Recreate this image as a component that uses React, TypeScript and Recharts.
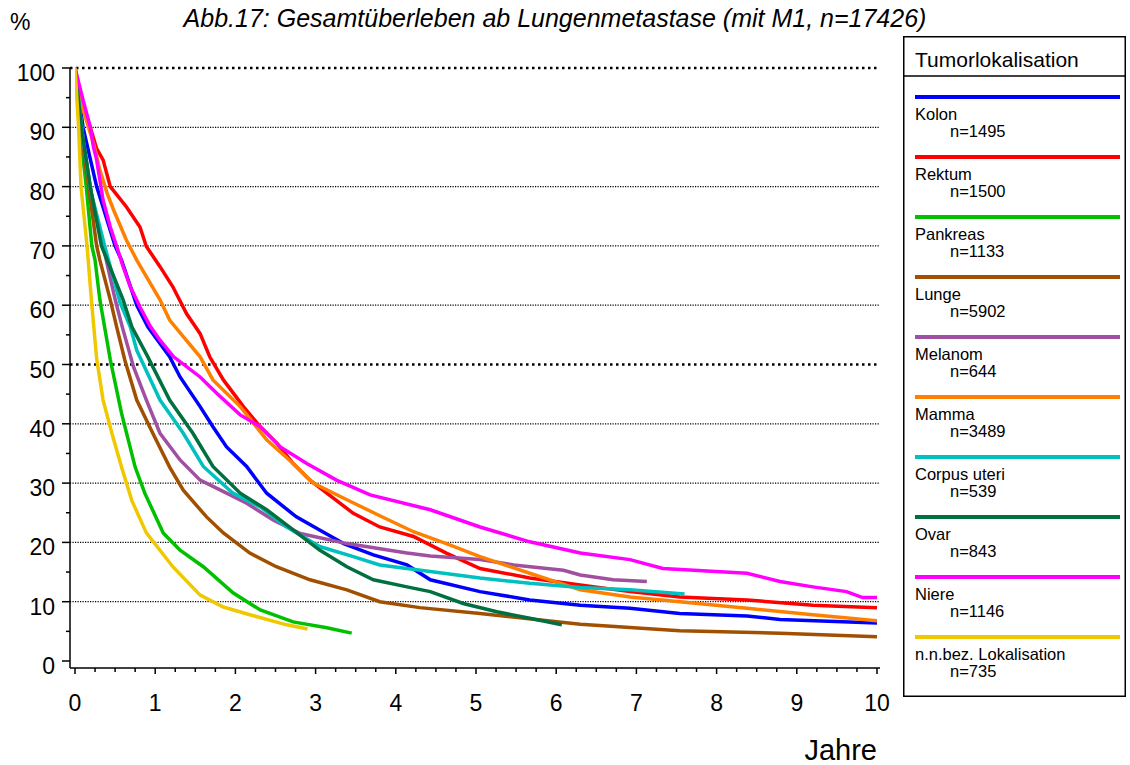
import React from 'react';
import { LineChart, Line, XAxis, YAxis, ReferenceLine, Legend } from 'recharts';

// survival curves, [years, percent]
const kolon = [[0, 100], [0.1, 90], [0.27, 80], [0.5, 70], [0.58, 67.6], [0.77, 60], [0.91, 56.3], [1.18, 51.3], [1.31, 47.9], [1.56, 42.9], [1.72, 39.5], [1.89, 36.1], [2.14, 32.8], [2.39, 28.3], [2.76, 24.3], [3.05, 22.1], [3.35, 19.8], [3.72, 17.9], [4.14, 16.2], [4.43, 13.7], [5.05, 11.7], [5.67, 10.3], [6.3, 9.4], [6.92, 8.9], [7.54, 8.0], [8.38, 7.6], [8.79, 7.0], [10, 6.4]];
const rektum = [[0, 100], [0.08, 94], [0.19, 90], [0.27, 86.4], [0.35, 84.5], [0.44, 80], [0.64, 76.6], [0.81, 73.2], [0.89, 69.9], [1.06, 66.5], [1.22, 63.1], [1.39, 58.6], [1.56, 55.2], [1.68, 51.3], [1.85, 47.4], [2.1, 42.9], [2.31, 39.5], [2.52, 36.7], [2.72, 33.3], [2.93, 30.5], [3.14, 28.3], [3.47, 24.9], [3.8, 22.6], [4.22, 21.0], [4.63, 18.2], [5.05, 15.6], [5.67, 14.0], [6.3, 12.8], [6.92, 11.7], [7.54, 10.8], [8.38, 10.3], [9.2, 9.4], [10, 9.0]];
const pankreas = [[0, 100], [0.06, 90], [0.1, 85], [0.14, 80], [0.21, 70], [0.25, 67.6], [0.31, 60.9], [0.44, 50.8], [0.58, 41.8], [0.75, 32.7], [0.87, 28.3], [1.1, 21.6], [1.31, 18.7], [1.6, 15.9], [1.97, 11.5], [2.31, 8.6], [2.72, 6.6], [3.14, 5.6], [3.45, 4.7]];
const lunge = [[0, 100], [0.08, 90], [0.12, 84.5], [0.17, 80], [0.27, 70], [0.31, 67.6], [0.44, 60.9], [0.52, 56.3], [0.62, 50.8], [0.77, 44], [0.97, 38.4], [1.18, 32.7], [1.35, 28.8], [1.64, 24.3], [1.85, 21.6], [2.18, 18.2], [2.51, 15.9], [2.93, 13.7], [3.39, 12], [3.8, 10], [4.3, 9], [5.05, 8.0], [6.3, 6.2], [7.54, 5.1], [8.79, 4.7], [10, 4.1]];
const melanom = [[0, 100], [0.1, 88], [0.2, 79], [0.35, 70], [0.5, 61], [0.59, 56.3], [0.73, 49.6], [0.89, 44], [1.06, 38.4], [1.31, 33.9], [1.56, 30.5], [1.89, 28.3], [2.14, 26.6], [2.47, 23.8], [2.81, 21.5], [3.39, 19.8], [4.14, 18.2], [4.43, 17.7], [5.05, 17.1], [5.47, 16.2], [6.09, 15.3], [6.3, 14.5], [6.71, 13.7], [7.13, 13.4]];
const mamma = [[0, 100], [0.1, 93], [0.23, 87.3], [0.31, 82.8], [0.4, 78.9], [0.48, 76.1], [0.64, 71.0], [0.77, 67.6], [0.89, 64.8], [1.06, 60.9], [1.18, 57.5], [1.35, 54.7], [1.56, 51.3], [1.72, 47.4], [2.06, 42.9], [2.39, 37.3], [2.72, 33.3], [2.97, 30.0], [3.39, 27.2], [3.8, 24.5], [4.22, 21.8], [4.63, 19.8], [5.05, 17.6], [5.67, 14.8], [6.3, 12.0], [6.92, 10.8], [7.54, 10.0], [8.38, 8.9], [9.2, 7.8], [10, 6.8]];
const corpusUteri = [[0, 100], [0.1, 88], [0.2, 79], [0.37, 70], [0.56, 60.5], [0.69, 56.3], [0.77, 52.4], [1.06, 44], [1.35, 38.4], [1.6, 32.8], [1.97, 28.3], [2.31, 26.0], [2.64, 22.6], [3.05, 19.3], [3.47, 17.6], [3.8, 16.2], [4.43, 15.1], [5.05, 14.0], [5.67, 13.1], [6.3, 12.4], [6.92, 12.0], [7.6, 11.3]];
const ovar = [[0, 100], [0.08, 90], [0.19, 80], [0.33, 70], [0.6, 60.9], [0.71, 56.3], [0.9, 51.5], [1.18, 44], [1.47, 38.4], [1.72, 32.8], [2.06, 28.3], [2.39, 25.5], [2.72, 22.1], [3.05, 18.7], [3.39, 15.9], [3.72, 13.7], [4.14, 12.5], [4.43, 11.7], [4.84, 9.7], [5.26, 8.3], [5.67, 7.2], [6.07, 6.1]];
const niere = [[0, 100], [0.1, 94.6], [0.19, 90.1], [0.23, 86.7], [0.27, 84.5], [0.31, 81.1], [0.35, 77.7], [0.44, 73.2], [0.52, 69.9], [0.6, 66.5], [0.69, 63.1], [0.81, 59.7], [0.94, 56.4], [1.06, 54.1], [1.23, 51.3], [1.56, 47.9], [1.77, 45.1], [2.06, 41.5], [2.31, 39.5], [2.56, 36.1], [2.89, 33.3], [3.26, 30.5], [3.68, 28.0], [4.43, 25.5], [5.05, 22.6], [5.67, 20.1], [6.3, 18.2], [6.92, 17.1], [7.33, 15.6], [8.38, 14.8], [8.79, 13.4], [9.2, 12.5], [9.62, 11.7], [9.82, 10.7], [10, 10.7]];
const nnbez = [[0, 100], [0.045, 90], [0.075, 80], [0.15, 70], [0.21, 60], [0.27, 51], [0.35, 44], [0.46, 38.4], [0.58, 32.7], [0.71, 27], [0.89, 21.6], [1.22, 15.9], [1.56, 11.1], [1.85, 9.1], [2.18, 7.8], [2.64, 6.1], [2.9, 5.4]];

const names = ['Kolon', 'Rektum', 'Pankreas', 'Lunge', 'Melanom', 'Mamma', 'Corpus uteri', 'Ovar', 'Niere', 'n.n.bez. Lokalisation'];
const counts = [1495, 1500, 1133, 5902, 644, 3489, 539, 843, 1146, 735];
const curves = [kolon, rektum, pankreas, lunge, melanom, mamma, corpusUteri, ovar, niere, nnbez];
const colors = ['#0000ff', '#ff0000', '#00c000', '#a05000', '#a050a0', '#ff8000', '#00c0c0', '#007040', '#ff00ff', '#f0c800'];

const yMajor = [0, 10, 20, 30, 40, 50, 60, 70, 80, 90, 100];
const yTicks = Array.from({ length: 21 }, (_, i) => i * 5);
const xMajor = [0, 1, 2, 3, 4, 5, 6, 7, 8, 9, 10];
const xTicks = Array.from({ length: 41 }, (_, i) => i / 4);
const gridValues = [10, 20, 30, 40, 50, 60, 70, 80, 90, 100];

const FONT = '"Liberation Sans", Arial, sans-serif';

const series = names.map((name, i) => ({
  name,
  n: counts[i],
  color: colors[i],
  data: curves[i].map(([t, v]) => ({ t, v })),
}));

// y ticks: tickSize 8 + tickMargin 7 -> axis is 15px right of props.x
const YTick = (props: any) => {
  const { x, y, payload } = props;
  const major = yMajor.includes(payload.value);
  const ax = x + 15;
  return (
    <g>
      <line x1={ax - (major ? 8 : 4)} x2={ax} y1={y} y2={y} stroke="#000" strokeWidth={1.5} />
      {major && (
        <text x={x} y={y + 13} textAnchor="end" fontSize={23} fontFamily={FONT} fill="#000">
          {payload.value}
        </text>
      )}
    </g>
  );
};

// x ticks: tickSize 6 + tickMargin 20 -> axis is 26px above props.y
const XTick = (props: any) => {
  const { x, y, payload } = props;
  const major = xMajor.includes(payload.value);
  const ay = y - 26;
  return (
    <g>
      <line x1={x} x2={x} y1={ay} y2={ay + (major ? 6 : 4)} stroke="#000" strokeWidth={1.5} />
      {major && (
        <text x={x} y={ay + 43} textAnchor="middle" fontSize={23} fontFamily={FONT} fill="#000">
          {payload.value}
        </text>
      )}
    </g>
  );
};

const LegendBox = () => (
  <svg width={223} height={661} style={{ display: 'block' }}>
    <rect x={0.75} y={0.75} width={221.5} height={659.5} fill="#fff" stroke="#000" strokeWidth={1.5} />
    <text x={12} y={31} fontSize={21} fontFamily={FONT} fill="#000">Tumorlokalisation</text>
    <line x1={0} x2={223} y1={40} y2={40} stroke="#000" strokeWidth={1.5} />
    {series.map((s, i) => (
      <g key={s.name}>
        <line x1={12} x2={217} y1={61 + 60 * i} y2={61 + 60 * i} stroke={s.color} strokeWidth={4} />
        <text x={12} y={83.5 + 60 * i} fontSize={16.5} fontFamily={FONT} fill="#000">{s.name}</text>
        <text x={47} y={101 + 60 * i} fontSize={16.5} fontFamily={FONT} fill="#000">n={s.n}</text>
      </g>
    ))}
  </svg>
);

export default function App() {
  return (
    <div style={{ position: 'absolute', left: 0, top: 0, width: 1130, height: 765, background: '#fff' }}>
      <LineChart width={1130} height={765} margin={{ top: 68, right: 250, bottom: 67, left: 10 }}>
        <XAxis
          dataKey="t"
          type="number"
          domain={[0, 10]}
          ticks={xTicks}
          interval={0}
          height={30}
          padding={{ left: 5, right: 3 }}
          allowDataOverflow
          axisLine={{ stroke: '#000', strokeWidth: 1.5 }}
          tickLine={false}
          tickSize={6}
          tickMargin={20}
          tick={<XTick />}
        />
        <YAxis
          type="number"
          domain={[0, 100]}
          ticks={yTicks}
          interval={0}
          width={60}
          padding={{ bottom: 7 }}
          axisLine={{ stroke: '#000', strokeWidth: 1.5 }}
          tickLine={false}
          tickSize={8}
          tickMargin={7}
          tick={<YTick />}
        />
        {gridValues.map((v) => (
          <ReferenceLine
            key={v}
            y={v}
            stroke="#000"
            strokeWidth={v === 50 || v === 100 ? 2.5 : 1.2}
            strokeDasharray={v === 50 || v === 100 ? '2.5 3.5' : '1.2 1.3'}
          />
        ))}
        {series.map((s) => (
          <Line
            key={s.name}
            data={s.data}
            dataKey="v"
            name={s.name}
            type="linear"
            stroke={s.color}
            strokeWidth={3.5}
            dot={false}
            activeDot={false}
            isAnimationActive={false}
          />
        ))}
        <Legend
          layout="vertical"
          align="center"
          verticalAlign="middle"
          wrapperStyle={{ left: 903, top: 36, width: 223, height: 661 }}
          content={() => <LegendBox />}
        />
        <text x={10} y={30} fontSize={23} fontFamily={FONT} fill="#000">%</text>
        <text x={555} y={27} textAnchor="middle" fontSize={25} fontStyle="italic" fontFamily={FONT} fill="#000">
          Abb.17: Gesamtüberleben ab Lungenmetastase (mit M1, n=17426)
        </text>
        <text x={877} y={760} textAnchor="end" fontSize={29} fontFamily={FONT} fill="#000">Jahre</text>
      </LineChart>
    </div>
  );
}
